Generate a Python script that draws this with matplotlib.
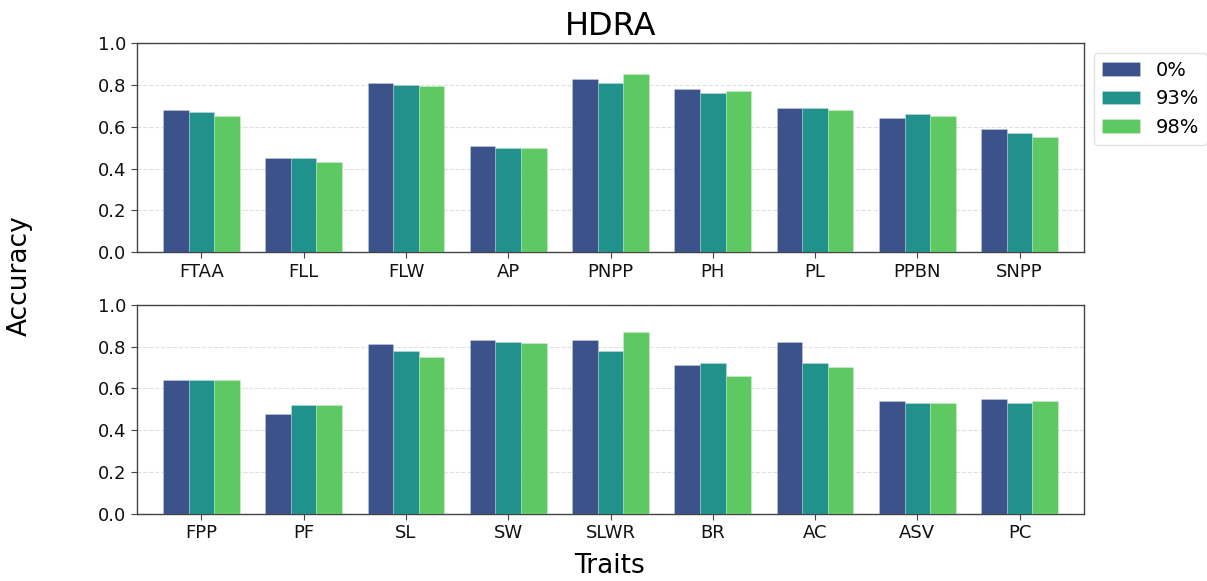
import matplotlib
matplotlib.use("Agg")
import matplotlib.pyplot as plt
import numpy as np

series_labels = ["0%", "93%", "98%"]
colors = ["#3b528b", "#21918c", "#5ec962"]

top_traits = ["FTAA", "FLL", "FLW", "AP", "PNPP", "PH", "PL", "PPBN", "SNPP"]
top_0 = [0.68, 0.45, 0.81, 0.51, 0.83, 0.78, 0.69, 0.64, 0.59]
top_93 = [0.67, 0.45, 0.80, 0.50, 0.81, 0.76, 0.69, 0.66, 0.57]
top_98 = [0.65, 0.43, 0.795, 0.50, 0.85, 0.77, 0.68, 0.65, 0.55]

bot_traits = ["FPP", "PF", "SL", "SW", "SLWR", "BR", "AC", "ASV", "PC"]
bot_0 = [0.64, 0.48, 0.81, 0.83, 0.83, 0.71, 0.82, 0.54, 0.55]
bot_93 = [0.64, 0.52, 0.78, 0.82, 0.78, 0.72, 0.72, 0.53, 0.53]
bot_98 = [0.64, 0.52, 0.75, 0.815, 0.87, 0.66, 0.70, 0.53, 0.54]

fig = plt.figure(figsize=(12.07, 5.81), dpi=100)
W, H = 1207, 581
ax1 = fig.add_axes([137 / W, 1 - 252.3 / H, (1084 - 137) / W, (252.3 - 43) / H])
ax2 = fig.add_axes([137 / W, 1 - 514 / H, (1084 - 137) / W, (514 - 304.7) / H])

width = 0.25
for ax, traits, vals in [
    (ax1, top_traits, [top_0, top_93, top_98]),
    (ax2, bot_traits, [bot_0, bot_93, bot_98]),
]:
    x = np.arange(len(traits))
    for i, (v, c, lab) in enumerate(zip(vals, colors, series_labels)):
        ax.bar(x + (i - 1) * width, v, width, color=c, label=lab,
               edgecolor=(1, 1, 1, 0.3), linewidth=0.5, zorder=3)
    ax.set_xticks(x)
    ax.set_xticklabels(traits, fontsize=13)
    ax.set_ylim(0, 1.0)
    ax.set_yticks([0, 0.2, 0.4, 0.6, 0.8, 1.0])
    ax.set_yticklabels(["0.0", "0.2", "0.4", "0.6", "0.8", "1.0"], fontsize=13)
    ax.set_xlim(-0.63, len(traits) - 1 + 0.63)
    ax.yaxis.grid(True, linestyle="--", color="#cccccc", alpha=0.6, linewidth=0.8, zorder=0)
    ax.set_axisbelow(True)
    for s in ax.spines.values():
        s.set_color("#444444")
        s.set_linewidth(1.0)
    ax.tick_params(colors="#111111", length=4, color="#444444")

ax1.set_title("HDRA", fontsize=23, pad=6)
ax1.legend(loc="upper left", bbox_to_anchor=(1.0, 1.0), fontsize=14,
           frameon=True, edgecolor="#dddddd", handlelength=2.0)

fig.text(20 / W, 1 - 276 / H, "Accuracy", rotation=90, ha="center", va="center", fontsize=19)
fig.text(610 / W, 1 - 566 / H, "Traits", ha="center", va="center", fontsize=19)

fig.savefig("out.png", dpi=100)
